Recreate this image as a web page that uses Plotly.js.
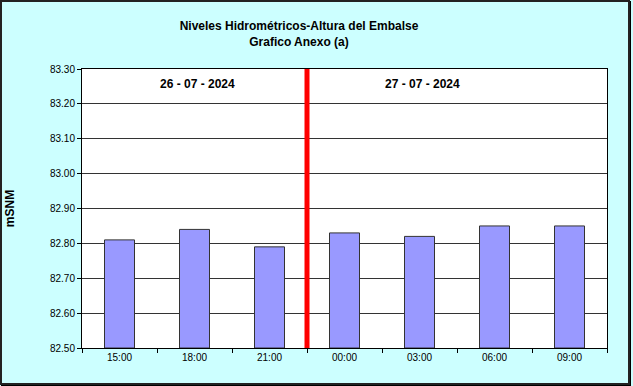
<!DOCTYPE html>
<html>
<head>
<meta charset="utf-8">
<script src="https://cdn.plot.ly/plotly-3.0.1.min.js"></script>
<style>
  html, body { margin: 0; padding: 0; background: #ffffff; }
  #wrap { position: relative; width: 633px; height: 386px; }
  #chart { position: absolute; left: 0; top: 0; width: 633px; height: 386px; }
  #frame { position: absolute; left: 0; top: 0; width: 626px; height: 381px;
           border: 2px solid #222; pointer-events: none; box-shadow: 1px 1px 0 #000; }
</style>
</head>
<body>
<div id="wrap">
  <div id="chart"></div>
  <div id="frame"></div>
</div>
<script>
const categories = ['15:00', '18:00', '21:00', '00:00', '03:00', '06:00', '09:00'];
const levels = [82.81, 82.84, 82.79, 82.83, 82.82, 82.85, 82.85];
const dateLabels = ['26 - 07 - 2024', '27 - 07 - 2024'];
const dateLabelPositions = [1.04, 4.04];
const dayBreak = 2.5;
const yTicks = [82.5, 82.6, 82.7, 82.8, 82.9, 83.0, 83.1, 83.2, 83.3];

const font = "Liberation Sans, Arial, sans-serif";

const trace = {
  type: 'bar',
  x: categories,
  y: levels.map(v => v - 82.5),
  base: 82.5,
  width: 0.4,
  marker: { color: '#9999FF', line: { color: '#333333', width: 1 } },
  hoverinfo: 'x+y'
};

const layout = {
  width: 633, height: 386,
  margin: { l: 82, r: 26, t: 69, b: 38 },
  paper_bgcolor: '#CCFFFF',
  plot_bgcolor: '#FFFFFF',
  showlegend: false,
  title: {
    text: '<b>Niveles Hidrométricos-Altura del Embalse</b><br><b>Grafico Anexo (a)</b>',
    font: { family: font, size: 12, color: '#000' },
    x: 299 / 633, xref: 'container', xanchor: 'center',
    y: 1 - 30 / 386, yref: 'container', yanchor: 'middle'
  },
  xaxis: {
    type: 'category',
    range: [-0.5, 6.5],
    showline: true, linecolor: '#000', linewidth: 1, mirror: true,
    ticks: 'outside', ticklen: 4, tickcolor: '#000', tickson: 'boundaries',
    tickfont: { family: font, size: 10, color: '#000' },
    showgrid: false, zeroline: false, fixedrange: true
  },
  yaxis: {
    range: [82.5, 83.3],
    tickvals: yTicks,
    ticktext: yTicks.map(v => v.toFixed(2)),
    showline: true, linecolor: '#000', linewidth: 1, mirror: true,
    ticks: 'outside', ticklen: 4, tickcolor: '#000',
    tickfont: { family: font, size: 10, color: '#000' },
    showgrid: true, gridcolor: '#333333', gridwidth: 1,
    zeroline: false, fixedrange: true,
    title: { text: '<b>mSNM</b>', font: { family: font, size: 12, color: '#000' }, standoff: 32 }
  },
  shapes: [{
    type: 'line', xref: 'x', yref: 'paper',
    x0: dayBreak, x1: dayBreak, y0: 0, y1: 1,
    line: { color: '#FF0000', width: 5 }
  }],
  annotations: dateLabels.map((t, i) => ({
    text: '<b>' + t + '</b>',
    x: dateLabelPositions[i], xref: 'x',
    y: 0.946, yref: 'paper', yanchor: 'middle',
    showarrow: false,
    font: { family: font, size: 12, color: '#000' }
  }))
};

Plotly.newPlot('chart', [trace], layout, { displayModeBar: false, staticPlot: true });
</script>
</body>
</html>
